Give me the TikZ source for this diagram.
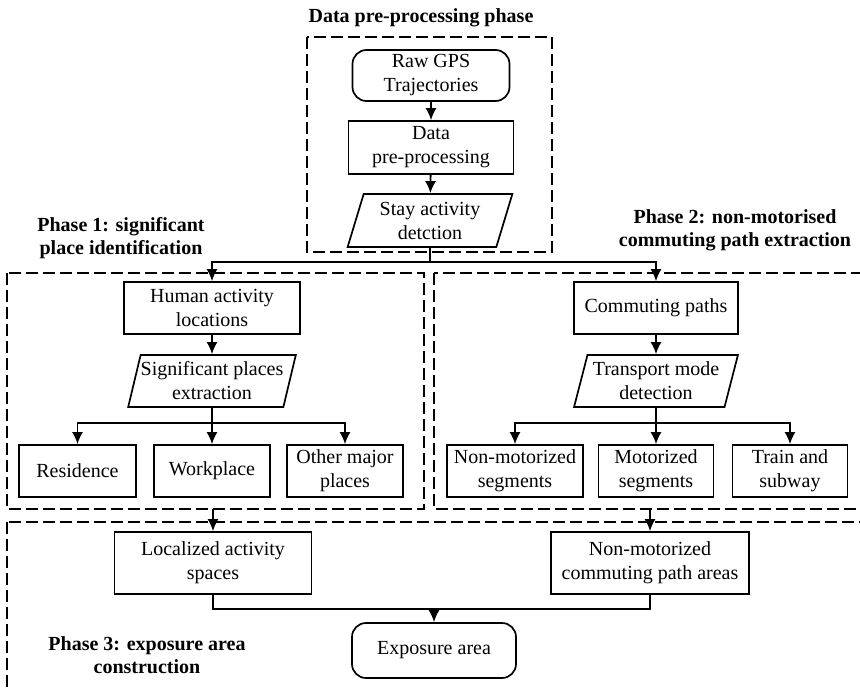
\documentclass[tikz,border=0pt]{standalone}
\usepackage{fontspec}
\setmainfont{Liberation Serif}
\usetikzlibrary{arrows.meta,shapes.geometric}

\tikzset{
  box/.style={draw, line width=1.7pt, align=center, inner sep=0pt, font=\fontsize{20}{24}\selectfont},
  roundbox/.style={box, rounded corners=14pt},
  slantbox/.style={box, trapezium, trapezium left angle=72, trapezium right angle=108, trapezium stretches=true},
  phase/.style={draw, line width=1.3pt, dash pattern=on 12pt off 5pt},
  phasetitle/.style={align=center, font=\fontsize{20}{23}\selectfont\bfseries},
  arr/.style={line width=1.8pt, -{Latex[length=12pt,width=11pt]}},
  conn/.style={line width=1.8pt},
}

\begin{document}
\begin{tikzpicture}[x=1pt,y=-1pt]
\clip (0,0) rectangle (860,691);

% phase frames
\draw [phase] (307,37) rectangle (552,252);
\draw [phase] (7,273) rectangle (424,509);
\draw [phase] (434,273) rectangle (880,509);
\draw [phase] (7,522) rectangle (880,710);

\node [phasetitle] (t0) at (421,18) {Data pre-processing phase};
\node [phasetitle] (t1) at (121,238) {Phase 1: significant\\place identification};
\node [phasetitle] (t2) at (735,230) {Phase 2: non-motorised\\commuting path extraction};
\node [phasetitle] (t3) at (147,655) {Phase 3: exposure area\\construction};

% data pre-processing
\node [roundbox,minimum width=157pt,minimum height=51pt] (raw) at (431,75.5) {Raw GPS\\Trajectories};
\node [box,minimum width=165pt,minimum height=53pt] (dpp) at (431,147.5) {Data\\pre-processing};
\node [slantbox,minimum width=165pt,minimum height=53pt] (stay) at (430,220.5) {Stay activity\\detction};
\draw [arr] (raw) -- (dpp);
\draw [arr] (dpp) -- (stay);

% phase 1
\node [box,minimum width=176pt,minimum height=52pt] (hal) at (212,308) {Human activity\\locations};
\node [slantbox,minimum width=167pt,minimum height=52pt] (spe) at (212,381) {Significant places\\extraction};
\node [box,minimum width=117pt,minimum height=52pt] (res) at (77.5,471) {Residence};
\node [box,minimum width=116pt,minimum height=52pt] (work) at (212,471) {Workplace};
\node [box,minimum width=116pt,minimum height=52pt] (other) at (345,471) {Other major\\places};

% phase 2
\node [box,minimum width=164pt,minimum height=52pt] (cp) at (656,308) {Commuting paths};
\node [slantbox,minimum width=164pt,minimum height=52pt] (tmd) at (656,381) {Transport mode\\detection};
\node [box,minimum width=136pt,minimum height=52pt] (nms) at (515,471) {Non-motorized\\segments};
\node [box,minimum width=115pt,minimum height=52pt] (ms) at (656,471) {Motorized\\segments};
\node [box,minimum width=115pt,minimum height=52pt] (tas) at (790,471) {Train and\\subway};

% phase 3
\node [box,minimum width=197pt,minimum height=62pt] (las) at (213,563) {Localized activity\\spaces};
\node [box,minimum width=198pt,minimum height=62pt] (ncp) at (650,563) {Non-motorized\\commuting path areas};
\node [roundbox,minimum width=164pt,minimum height=55pt] (expo) at (434,650.5) {Exposure area};

\coordinate (split) at (430,262);
\coordinate (b1) at (212,423);
\coordinate (b2) at (656,423);
\coordinate (p1out) at (213,509);
\coordinate (p2out) at (650,509);
\coordinate (merge) at (434,609);

\draw [conn] (stay.south) -- (split);
\draw [arr] (split) -| (hal.north);
\draw [arr] (split) -| (cp.north);

\draw [arr] (hal) -- (spe);
\draw [conn] (spe.south) -- (b1);
\draw [arr] (b1) -| (res.north);
\draw [arr] (b1) -- (work.north);
\draw [arr] (b1) -| (other.north);

\draw [arr] (cp) -- (tmd);
\draw [conn] (tmd.south) -- (b2);
\draw [arr] (b2) -| (nms.north);
\draw [arr] (b2) -- (ms.north);
\draw [arr] (b2) -| (tas.north);

\draw [arr] (p1out) -- (las.north);
\draw [arr] (p2out) -- (ncp.north);
\draw [conn] (las.south) |- (merge) -| (ncp.south);
\draw [arr] (merge) -- (expo.north);

\end{tikzpicture}
\end{document}
